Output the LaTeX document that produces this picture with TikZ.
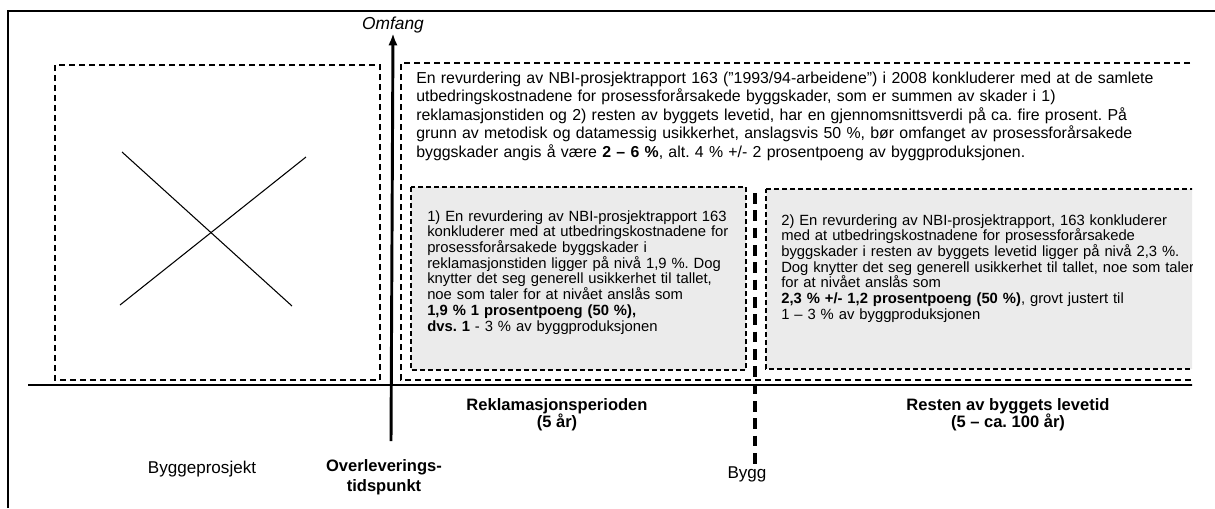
\documentclass[tikz,border=0pt]{standalone}
\usepackage{fontspec}
\setmainfont{Liberation Sans}
\usetikzlibrary{arrows.meta}
\tikzset{>=latex}
\frenchspacing
\definecolor{boxgrey}{HTML}{EBEBEB}
\tikzset{
  bigdash/.style={black, line width=1.5pt, dash pattern=on 4.5pt off 3pt},
  smalldash/.style={black, line width=1.1pt, dash pattern=on 3.6pt off 2.4pt},
  maintext/.style={anchor=base west, inner sep=0pt, align=left, text width=640pt,
    font=\fontsize{11.9}{13.9}\selectfont},
  boxtext/.style={anchor=base west, inner sep=0pt, align=left, text width=340pt,
    font=\fontsize{11.1}{11.8}\selectfont},
  axislabel/.style={align=center, inner sep=0pt, font=\fontsize{12.8}{14}\selectfont},
}

\begin{document}
\begin{tikzpicture}[x=0.75pt, y=-0.75pt]
\useasboundingbox (0,0) rectangle (1215,508);
% frame
\draw[black, line width=1.2pt] (8,508) -- (8,11) -- (1215,11);

\begin{scope}
\clip (0,0) rectangle (1192,508);
% left box with cross
\draw[bigdash] (55,65) rectangle (380,380);
\draw[black, line width=0.8pt] (122,152) -- (292,306);
\draw[black, line width=0.8pt] (306,157) -- (120,305);

% big box, open to the right
\draw[bigdash] (1200,63) -- (401,63) -- (401,380) -- (1200,380);
% grey boxes
\draw[smalldash, fill=boxgrey] (411,187) rectangle (746,370);
\draw[smalldash, fill=boxgrey] (766,189) -- (1200,189) -- (1200,369) -- (766,369) -- cycle;

\node[maintext] (revurdering) at (416,83) {En revurdering av NBI-prosjektrapport 163 ("1993/94-arbeidene") i 2008 konkluderer med at de samlete\\
utbedringskostnadene for prosessforårsakede byggskader, som er summen av skader i 1)\\
reklamasjonstiden og 2) resten av byggets levetid, har en gjennomsnittsverdi på ca. fire prosent. På\\
grunn av metodisk og datamessig usikkerhet, anslagsvis 50 \%, bør omfanget av prosessforårsakede\\
byggskader angis å være \textbf{2 – 6 \%}, alt. 4 \% +/- 2 prosentpoeng av byggproduksjonen.};

\node[boxtext] (reklamasjon) at (427,221) {1) En revurdering av NBI-prosjektrapport 163\\
konkluderer med at utbedringskostnadene for\\
prosessforårsakede byggskader i\\
reklamasjonstiden ligger på nivå 1,9 \%. Dog\\
knytter det seg generell usikkerhet til tallet,\\
noe som taler for at nivået anslås som\\
\textbf{1,9 \% 1 prosentpoeng (50 \%),}\\
\textbf{dvs. 1} - 3 \% av byggproduksjonen};

\node[boxtext] (levetid) at (781,225) {2) En revurdering av NBI-prosjektrapport, 163 konkluderer\\
med at utbedringskostnadene for prosessforårsakede\\
byggskader i resten av byggets levetid ligger på nivå 2,3 \%.\\
Dog knytter det seg generell usikkerhet til tallet, noe som taler\\
for at nivået anslås som\\
\textbf{2,3 \% +/- 1,2 prosentpoeng (50 \%)}, grovt justert til\\
1 – 3 \% av byggproduksjonen};

% time axis
\coordinate (tstart) at (28,385);
\coordinate (tend) at (1200,385);
\draw[black, line width=1.6pt] (tstart) -- (tend);
\end{scope}

% axes and labels
\node[axislabel, font=\fontsize{13}{14}\selectfont\itshape] (omfang) at (393,25) {Omfang};
\coordinate (origo) at (391,441);
\draw[black, line width=2.2pt, -{Latex[length=9pt,width=7pt]}] (origo) -- (omfang.south);

\node[axislabel] (bygg) at (747,474) {Bygg};
\coordinate (byggtop) at (755,193);
\draw[black, line width=2.4pt, dash pattern=on 8pt off 5pt] (byggtop) -- (bygg.north -| byggtop);

\node[axislabel, font=\fontsize{12.4}{13}\selectfont\bfseries] (periode) at (557,415) {Reklamasjonsperioden\\(5 år)};
\node[axislabel, font=\fontsize{12.4}{13}\selectfont\bfseries] (resten) at (1008,415) {Resten av byggets levetid\\(5 – ca. 100 år)};
\node[axislabel] (prosjekt) at (202,469) {Byggeprosjekt};
\node[axislabel, font=\fontsize{12.4}{15}\selectfont\bfseries] (overlevering) at (384,477) {Overleverings-\\tidspunkt};
\end{tikzpicture}
\end{document}
